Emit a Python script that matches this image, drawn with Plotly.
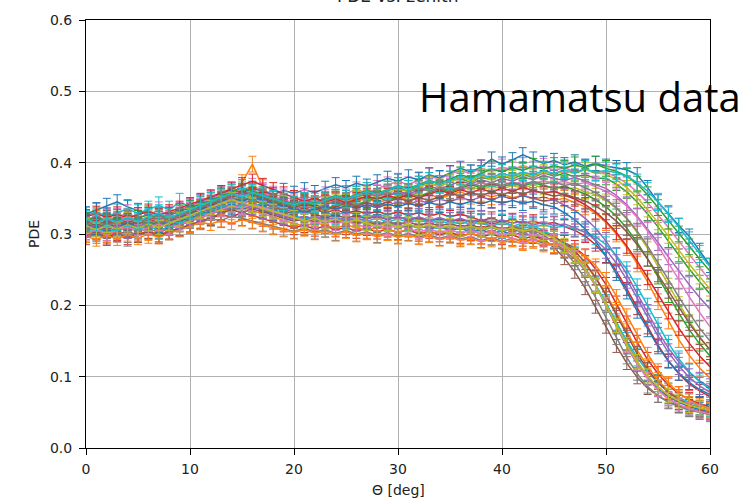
import plotly.graph_objects as go

THETA = list(range(0, 61))

S01 = [0.312,0.308,0.315,0.310,0.306,0.313,0.309,0.316,0.311,0.318,
       0.322,0.328,0.333,0.330,0.337,0.334,0.340,0.332,0.329,0.324,
       0.321,0.318,0.323,0.319,0.316,0.320,0.314,0.318,0.312,0.315,
       0.311,0.309,0.313,0.307,0.310,0.305,0.308,0.303,0.306,0.301,
       0.304,0.299,0.302,0.297,0.295,0.290,0.282,0.270,0.252,0.228,
       0.200,0.170,0.142,0.118,0.098,0.083,0.072,0.064,0.058,0.054,0.051]
S02 = [0.318,0.322,0.316,0.320,0.325,0.319,0.323,0.318,0.326,0.321,
       0.329,0.336,0.342,0.348,0.352,0.372,0.398,0.365,0.349,0.344,
       0.340,0.345,0.338,0.342,0.347,0.341,0.346,0.350,0.344,0.349,
       0.353,0.347,0.352,0.356,0.350,0.355,0.359,0.353,0.357,0.352,
       0.356,0.351,0.354,0.349,0.352,0.347,0.350,0.344,0.338,0.329,
       0.316,0.300,0.281,0.258,0.233,0.205,0.178,0.152,0.130,0.112,0.098]
S03 = [0.305,0.310,0.303,0.309,0.314,0.308,0.312,0.317,0.311,0.316,
       0.320,0.326,0.331,0.335,0.340,0.337,0.343,0.339,0.334,0.338,
       0.342,0.347,0.343,0.349,0.353,0.348,0.355,0.359,0.354,0.361,
       0.365,0.360,0.368,0.372,0.366,0.374,0.378,0.372,0.380,0.376,
       0.382,0.377,0.384,0.379,0.386,0.381,0.385,0.380,0.383,0.378,
       0.378,0.370,0.359,0.345,0.328,0.310,0.290,0.270,0.251,0.233,0.216]
S04 = [0.298,0.302,0.296,0.301,0.295,0.300,0.304,0.299,0.303,0.308,
       0.313,0.318,0.322,0.327,0.324,0.330,0.326,0.321,0.317,0.313,
       0.309,0.312,0.307,0.311,0.306,0.309,0.304,0.308,0.303,0.307,
       0.302,0.306,0.300,0.304,0.299,0.303,0.297,0.301,0.296,0.300,
       0.295,0.299,0.293,0.297,0.292,0.294,0.288,0.281,0.269,0.251,
       0.229,0.203,0.175,0.148,0.124,0.104,0.088,0.076,0.068,0.062,0.058]
S05 = [0.322,0.317,0.324,0.319,0.315,0.321,0.316,0.323,0.318,0.325,
       0.331,0.337,0.333,0.340,0.346,0.342,0.348,0.344,0.339,0.335,
       0.331,0.336,0.332,0.338,0.334,0.339,0.343,0.338,0.344,0.340,
       0.345,0.341,0.347,0.343,0.349,0.345,0.351,0.347,0.352,0.348,
       0.353,0.349,0.354,0.350,0.346,0.348,0.341,0.333,0.322,0.308,
       0.290,0.268,0.243,0.216,0.189,0.163,0.140,0.121,0.106,0.094,0.085]
S06 = [0.309,0.314,0.308,0.313,0.318,0.312,0.317,0.311,0.316,0.321,
       0.326,0.331,0.336,0.341,0.346,0.351,0.347,0.342,0.337,0.333,
       0.328,0.332,0.327,0.323,0.327,0.322,0.326,0.321,0.325,0.320,
       0.324,0.319,0.323,0.318,0.322,0.317,0.321,0.316,0.319,0.314,
       0.317,0.312,0.308,0.302,0.293,0.281,0.266,0.247,0.224,0.198,
       0.170,0.143,0.119,0.099,0.084,0.073,0.065,0.059,0.055,0.052,0.049]
S07 = [0.315,0.320,0.314,0.319,0.324,0.318,0.323,0.328,0.322,0.327,
       0.333,0.339,0.345,0.351,0.356,0.362,0.367,0.361,0.356,0.352,
       0.348,0.353,0.349,0.355,0.351,0.357,0.362,0.358,0.364,0.369,
       0.374,0.369,0.376,0.381,0.377,0.384,0.389,0.385,0.392,0.388,
       0.394,0.390,0.396,0.391,0.395,0.389,0.393,0.387,0.391,0.385,
       0.386,0.380,0.371,0.359,0.344,0.327,0.309,0.290,0.271,0.253,0.235]
S08 = [0.302,0.297,0.304,0.299,0.293,0.298,0.303,0.297,0.302,0.306,
       0.311,0.316,0.321,0.319,0.325,0.322,0.318,0.314,0.310,0.307,
       0.304,0.308,0.303,0.306,0.301,0.305,0.300,0.303,0.298,0.302,
       0.297,0.301,0.296,0.299,0.294,0.298,0.293,0.296,0.291,0.295,
       0.290,0.294,0.289,0.292,0.287,0.283,0.276,0.265,0.249,0.228,
       0.203,0.175,0.147,0.121,0.099,0.082,0.069,0.060,0.054,0.050,0.047]
S09 = [0.310,0.315,0.309,0.314,0.319,0.313,0.318,0.312,0.317,0.322,
       0.328,0.334,0.339,0.345,0.341,0.347,0.352,0.348,0.343,0.339,
       0.335,0.340,0.336,0.341,0.346,0.342,0.347,0.352,0.348,0.354,
       0.358,0.353,0.359,0.364,0.359,0.365,0.361,0.366,0.362,0.367,
       0.363,0.368,0.364,0.369,0.364,0.367,0.362,0.365,0.359,0.355,
       0.347,0.336,0.321,0.302,0.280,0.255,0.229,0.203,0.178,0.156,0.137]
S10 = [0.326,0.331,0.325,0.330,0.335,0.329,0.334,0.340,0.334,0.345,
       0.338,0.343,0.348,0.353,0.349,0.355,0.351,0.346,0.342,0.337,
       0.333,0.329,0.334,0.330,0.326,0.331,0.327,0.323,0.328,0.324,
       0.320,0.325,0.321,0.317,0.322,0.318,0.314,0.319,0.315,0.311,
       0.316,0.312,0.308,0.311,0.305,0.297,0.286,0.271,0.252,0.229,
       0.203,0.176,0.150,0.127,0.107,0.091,0.079,0.070,0.064,0.059,0.056]
S11 = [0.328,0.334,0.340,0.345,0.338,0.333,0.327,0.322,0.328,0.333,
       0.339,0.345,0.351,0.357,0.362,0.358,0.364,0.360,0.355,0.361,
       0.357,0.362,0.358,0.364,0.369,0.365,0.371,0.367,0.373,0.378,
       0.374,0.380,0.376,0.383,0.379,0.386,0.392,0.387,0.394,0.405,
       0.398,0.404,0.411,0.405,0.399,0.403,0.397,0.401,0.395,0.399,
       0.395,0.393,0.390,0.383,0.365,0.345,0.328,0.312,0.297,0.277,0.256]
S12 = [0.300,0.305,0.299,0.304,0.309,0.303,0.298,0.304,0.309,0.314,
       0.319,0.324,0.330,0.336,0.331,0.337,0.333,0.328,0.324,0.319,
       0.315,0.311,0.316,0.312,0.308,0.313,0.309,0.305,0.310,0.306,
       0.302,0.307,0.303,0.299,0.304,0.300,0.296,0.301,0.297,0.293,
       0.298,0.294,0.290,0.293,0.289,0.285,0.279,0.270,0.257,0.239,
       0.216,0.190,0.163,0.137,0.114,0.095,0.080,0.069,0.061,0.056,0.052]
S13 = [0.316,0.311,0.318,0.313,0.308,0.314,0.309,0.315,0.320,0.326,
       0.332,0.338,0.344,0.350,0.355,0.361,0.357,0.352,0.347,0.343,
       0.339,0.344,0.340,0.335,0.340,0.345,0.341,0.346,0.351,0.347,
       0.352,0.357,0.353,0.358,0.363,0.359,0.364,0.369,0.365,0.370,
       0.366,0.371,0.367,0.372,0.368,0.364,0.367,0.361,0.356,0.348,
       0.338,0.325,0.308,0.288,0.265,0.240,0.214,0.189,0.166,0.146,0.129]
S14 = [0.313,0.318,0.312,0.317,0.311,0.316,0.321,0.315,0.320,0.324,
       0.330,0.336,0.342,0.347,0.353,0.348,0.354,0.349,0.344,0.340,
       0.336,0.331,0.335,0.330,0.334,0.329,0.333,0.328,0.332,0.327,
       0.331,0.326,0.330,0.325,0.329,0.324,0.328,0.323,0.319,0.322,
       0.317,0.320,0.315,0.318,0.314,0.316,0.311,0.305,0.297,0.285,
       0.269,0.248,0.223,0.196,0.169,0.144,0.122,0.104,0.090,0.080,0.072]
S15 = [0.307,0.312,0.306,0.311,0.316,0.310,0.315,0.320,0.314,0.319,
       0.325,0.331,0.337,0.343,0.349,0.345,0.351,0.347,0.342,0.338,
       0.334,0.339,0.335,0.341,0.346,0.342,0.348,0.353,0.349,0.355,
       0.360,0.356,0.362,0.367,0.363,0.369,0.374,0.370,0.376,0.372,
       0.378,0.374,0.380,0.376,0.382,0.378,0.375,0.379,0.374,0.370,
       0.364,0.354,0.341,0.325,0.307,0.288,0.268,0.248,0.229,0.211,0.195]
S16 = [0.295,0.300,0.294,0.299,0.304,0.298,0.303,0.297,0.302,0.307,
       0.312,0.318,0.323,0.329,0.334,0.330,0.335,0.331,0.326,0.322,
       0.318,0.322,0.317,0.321,0.316,0.320,0.315,0.319,0.314,0.318,
       0.313,0.317,0.312,0.316,0.311,0.315,0.310,0.313,0.308,0.312,
       0.307,0.310,0.305,0.308,0.302,0.296,0.288,0.276,0.260,0.239,
       0.214,0.186,0.158,0.132,0.110,0.092,0.078,0.068,0.061,0.056,0.053]
S17 = [0.320,0.325,0.319,0.324,0.329,0.323,0.328,0.333,0.327,0.332,
       0.338,0.344,0.349,0.355,0.360,0.356,0.361,0.357,0.352,0.348,
       0.344,0.349,0.345,0.350,0.346,0.351,0.347,0.352,0.357,0.353,
       0.358,0.354,0.359,0.364,0.360,0.366,0.362,0.367,0.372,0.368,
       0.373,0.369,0.374,0.370,0.375,0.371,0.374,0.369,0.372,0.366,
       0.360,0.351,0.339,0.323,0.304,0.283,0.260,0.236,0.212,0.190,0.170]
S18 = [0.306,0.301,0.307,0.302,0.297,0.303,0.308,0.302,0.307,0.312,
       0.317,0.323,0.328,0.333,0.338,0.334,0.340,0.335,0.330,0.326,
       0.321,0.325,0.320,0.316,0.320,0.315,0.319,0.314,0.318,0.313,
       0.317,0.312,0.308,0.312,0.307,0.311,0.306,0.310,0.305,0.309,
       0.304,0.307,0.302,0.305,0.298,0.289,0.276,0.259,0.237,0.211,
       0.183,0.154,0.127,0.104,0.086,0.073,0.064,0.058,0.053,0.050,0.047]
S19 = [0.311,0.316,0.310,0.315,0.320,0.314,0.319,0.324,0.318,0.323,
       0.329,0.335,0.341,0.346,0.352,0.348,0.354,0.350,0.345,0.341,
       0.337,0.342,0.338,0.343,0.349,0.345,0.351,0.356,0.352,0.358,
       0.363,0.359,0.365,0.371,0.367,0.373,0.379,0.375,0.381,0.377,
       0.383,0.379,0.385,0.381,0.387,0.383,0.389,0.385,0.390,0.386,
       0.384,0.376,0.365,0.351,0.334,0.316,0.297,0.277,0.258,0.240,0.223]
S20 = [0.303,0.308,0.302,0.307,0.312,0.306,0.311,0.305,0.310,0.315,
       0.320,0.326,0.331,0.337,0.342,0.338,0.343,0.339,0.334,0.330,
       0.326,0.321,0.325,0.320,0.324,0.319,0.323,0.318,0.322,0.317,
       0.321,0.316,0.320,0.315,0.319,0.314,0.318,0.313,0.317,0.312,
       0.316,0.311,0.315,0.310,0.313,0.309,0.311,0.307,0.303,0.296,
       0.285,0.270,0.250,0.226,0.199,0.172,0.147,0.125,0.107,0.093,0.082]
S21 = [0.314,0.309,0.315,0.310,0.316,0.311,0.317,0.312,0.318,0.323,
       0.329,0.334,0.340,0.345,0.351,0.346,0.352,0.348,0.343,0.339,
       0.335,0.330,0.334,0.339,0.335,0.340,0.336,0.341,0.337,0.342,
       0.338,0.343,0.339,0.344,0.340,0.345,0.341,0.346,0.342,0.347,
       0.343,0.347,0.343,0.346,0.341,0.338,0.330,0.320,0.307,0.290,
       0.269,0.245,0.219,0.192,0.166,0.142,0.122,0.105,0.092,0.082,0.075]
S22 = [0.297,0.292,0.298,0.293,0.299,0.294,0.300,0.295,0.301,0.306,
       0.311,0.316,0.314,0.319,0.315,0.320,0.316,0.312,0.308,0.305,
       0.302,0.306,0.301,0.304,0.299,0.303,0.298,0.301,0.296,0.300,
       0.295,0.299,0.294,0.297,0.292,0.296,0.291,0.294,0.289,0.293,
       0.288,0.291,0.286,0.289,0.284,0.287,0.282,0.277,0.269,0.256,
       0.237,0.213,0.186,0.158,0.132,0.109,0.091,0.077,0.067,0.060,0.055]
S23 = [0.319,0.324,0.318,0.323,0.317,0.322,0.327,0.321,0.326,0.331,
       0.336,0.342,0.347,0.353,0.359,0.365,0.360,0.355,0.351,0.346,
       0.342,0.347,0.343,0.348,0.354,0.350,0.356,0.361,0.357,0.363,
       0.368,0.364,0.370,0.375,0.371,0.377,0.383,0.379,0.385,0.391,
       0.387,0.393,0.389,0.395,0.391,0.396,0.392,0.397,0.393,0.398,
       0.392,0.388,0.381,0.370,0.355,0.337,0.318,0.300,0.282,0.265,0.248]
S24 = [0.324,0.329,0.323,0.328,0.322,0.327,0.332,0.326,0.331,0.336,
       0.341,0.347,0.352,0.358,0.363,0.369,0.374,0.368,0.362,0.356,
       0.351,0.346,0.350,0.345,0.349,0.344,0.348,0.353,0.349,0.354,
       0.350,0.355,0.351,0.356,0.361,0.357,0.362,0.358,0.363,0.359,
       0.364,0.360,0.365,0.361,0.357,0.360,0.355,0.349,0.341,0.331,
       0.318,0.302,0.283,0.262,0.239,0.215,0.191,0.168,0.147,0.129,0.114]
S25 = [0.308,0.313,0.307,0.312,0.306,0.311,0.316,0.310,0.315,0.320,
       0.325,0.331,0.336,0.341,0.337,0.343,0.339,0.334,0.330,0.325,
       0.321,0.325,0.320,0.324,0.319,0.323,0.318,0.322,0.326,0.321,
       0.325,0.320,0.324,0.319,0.323,0.318,0.322,0.317,0.321,0.316,
       0.320,0.315,0.318,0.313,0.316,0.312,0.314,0.309,0.302,0.292,
       0.278,0.259,0.236,0.210,0.183,0.157,0.134,0.115,0.099,0.087,0.078]
S26 = [0.317,0.312,0.318,0.313,0.319,0.314,0.320,0.325,0.319,0.324,
       0.330,0.336,0.342,0.348,0.354,0.359,0.355,0.350,0.345,0.341,
       0.337,0.342,0.338,0.333,0.338,0.343,0.339,0.344,0.340,0.345,
       0.350,0.346,0.351,0.347,0.352,0.357,0.353,0.358,0.354,0.359,
       0.355,0.360,0.356,0.361,0.357,0.353,0.356,0.351,0.346,0.339,
       0.330,0.318,0.303,0.285,0.265,0.243,0.220,0.197,0.175,0.155,0.138]
S27 = [0.301,0.306,0.300,0.305,0.310,0.304,0.309,0.314,0.308,0.313,
       0.318,0.324,0.329,0.334,0.340,0.336,0.342,0.337,0.333,0.328,
       0.324,0.320,0.315,0.319,0.314,0.318,0.313,0.309,0.313,0.308,
       0.312,0.307,0.303,0.307,0.302,0.306,0.301,0.305,0.300,0.304,
       0.299,0.302,0.297,0.300,0.295,0.290,0.281,0.268,0.250,0.227,
       0.200,0.171,0.143,0.118,0.097,0.081,0.069,0.061,0.055,0.051,0.048]
S28 = [0.313,0.318,0.312,0.317,0.322,0.316,0.321,0.326,0.320,0.325,
       0.331,0.337,0.343,0.349,0.355,0.352,0.358,0.353,0.349,0.344,
       0.340,0.345,0.341,0.346,0.351,0.347,0.352,0.357,0.353,0.358,
       0.354,0.359,0.364,0.360,0.365,0.361,0.366,0.371,0.367,0.372,
       0.368,0.373,0.369,0.374,0.370,0.373,0.368,0.371,0.365,0.358,
       0.349,0.337,0.322,0.304,0.283,0.260,0.236,0.212,0.189,0.168,0.150]
S29 = [0.311,0.306,0.312,0.307,0.313,0.308,0.314,0.309,0.315,0.320,
       0.326,0.332,0.337,0.343,0.348,0.344,0.340,0.335,0.331,0.327,
       0.323,0.318,0.322,0.317,0.321,0.316,0.320,0.315,0.311,0.315,
       0.310,0.314,0.309,0.313,0.308,0.312,0.307,0.311,0.306,0.310,
       0.305,0.309,0.304,0.307,0.301,0.294,0.284,0.270,0.251,0.228,
       0.201,0.172,0.145,0.121,0.101,0.086,0.074,0.066,0.060,0.056,0.053]
S30 = [0.321,0.316,0.322,0.317,0.323,0.318,0.324,0.329,0.323,0.328,
       0.334,0.340,0.346,0.351,0.357,0.352,0.358,0.354,0.349,0.345,
       0.341,0.346,0.342,0.347,0.353,0.349,0.355,0.360,0.356,0.362,
       0.367,0.363,0.369,0.374,0.370,0.376,0.381,0.377,0.383,0.379,
       0.385,0.381,0.387,0.383,0.389,0.385,0.390,0.386,0.391,0.387,
       0.389,0.386,0.381,0.372,0.360,0.345,0.328,0.310,0.291,0.272,0.254]

SERIES = [S01, S02, S03, S04, S05, S06, S07, S08, S09, S10,
          S11, S12, S13, S14, S15, S16, S17, S18, S19, S20,
          S21, S22, S23, S24, S25, S26, S27, S28, S29, S30]
ERR = [0.010, 0.011, 0.009, 0.010, 0.012, 0.009, 0.011, 0.010, 0.009, 0.012,
       0.010, 0.011, 0.010, 0.009, 0.011, 0.010, 0.012, 0.009, 0.010, 0.011,
       0.010, 0.009, 0.011, 0.010, 0.012, 0.010, 0.009, 0.011, 0.010, 0.012]

X_TICKS = [0, 10, 20, 30, 40, 50, 60]
Y_TICKS = [0.0, 0.1, 0.2, 0.3, 0.4, 0.5, 0.6]
Y_TICK_TEXT = ["0.0", "0.1", "0.2", "0.3", "0.4", "0.5", "0.6"]

TAB10 = ["#1f77b4", "#ff7f0e", "#2ca02c", "#d62728", "#9467bd",
         "#8c564b", "#e377c2", "#7f7f7f", "#bcbd22", "#17becf"]

fig = go.Figure()
for i, (ys, e) in enumerate(zip(SERIES, ERR)):
    c = TAB10[i % 10]
    fig.add_trace(go.Scatter(
        x=THETA, y=ys, mode="lines",
        line=dict(color=c, width=1.5),
        error_y=dict(type="constant", value=e, color=c, thickness=1, width=4),
        showlegend=False, hoverinfo="skip"))

tick_font = dict(family="DejaVu Sans", size=14, color="#222222")
fig.update_layout(
    width=741, height=503,
    margin=dict(l=86, r=31, t=14, b=55),
    paper_bgcolor="white", plot_bgcolor="white",
    xaxis=dict(range=[0, 60], tickvals=X_TICKS, showgrid=True,
               gridcolor="#b0b0b0", gridwidth=1, zeroline=False,
               showline=True, linecolor="black", linewidth=1, mirror=True,
               ticks="outside", ticklen=6, tickcolor="black",
               tickfont=tick_font, ticklabelstandoff=2),
    yaxis=dict(range=[0, 0.6], tickvals=Y_TICKS, ticktext=Y_TICK_TEXT,
               showgrid=True, gridcolor="#b0b0b0", gridwidth=1,
               zeroline=False, showline=True, linecolor="black", linewidth=1,
               mirror=True, ticks="outside", ticklen=6, tickcolor="black",
               tickfont=tick_font, ticklabelstandoff=4),
    annotations=[
        dict(text="PDE vs. zenith", xref="paper", yref="paper", x=0.5, y=1.0,
             yshift=12, xanchor="center", yanchor="bottom", showarrow=False,
             font=dict(family="DejaVu Sans", size=17, color="#222222")),
        dict(text="PDE", xref="paper", yref="paper", x=0, y=0.5, xshift=-52,
             textangle=-90, xanchor="center", yanchor="middle", showarrow=False,
             font=dict(family="DejaVu Sans", size=14, color="#222222")),
        dict(text="Θ [deg]", xref="paper", yref="paper", x=0.5, y=0, yshift=-42,
             xanchor="center", yanchor="middle", showarrow=False,
             font=dict(family="DejaVu Sans", size=14, color="#222222")),
        dict(text="Hamamatsu data", xref="paper", yref="paper",
             x=(417 - 86) / 624, y=(448 - 92) / 434, xanchor="left",
             yanchor="middle", showarrow=False,
             font=dict(family="Open Sans", size=40, color="black")),
    ],
)

fig.write_html("out.html")
